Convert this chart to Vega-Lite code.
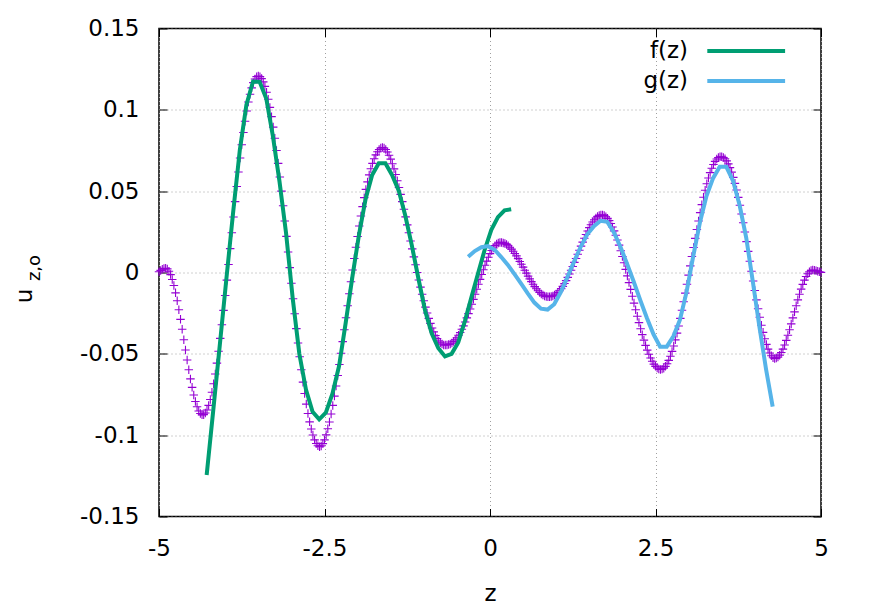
{
 "$schema": "https://vega.github.io/schema/vega-lite/v6.json",
 "width": 662,
 "height": 488,
 "autosize": {"type": "none"},
 "padding": {"left": 159, "top": 28.5, "right": 51, "bottom": 93.5},
 "background": "white",
 "config": {"view": {"stroke": "#000000", "strokeWidth": 1.5}, "font": "DejaVu Sans"},
 "datasets": {
  "purple": [
{"z":-5,"u":0.0005},{"z":-4.975,"u":0.0013},{"z":-4.95,"u":0.002},{"z":-4.925,"u":0.0024},{"z":-4.9,"u":0.0026},{"z":-4.875,"u":0.0022},{"z":-4.85,"u":0.0008},{"z":-4.825,"u":-0.0013},{"z":-4.8,"u":-0.0043},{"z":-4.775,"u":-0.008},
{"z":-4.75,"u":-0.0125},{"z":-4.725,"u":-0.0174},{"z":-4.7,"u":-0.0229},{"z":-4.675,"u":-0.0288},{"z":-4.65,"u":-0.0349},{"z":-4.625,"u":-0.0413},{"z":-4.6,"u":-0.0476},{"z":-4.575,"u":-0.0538},{"z":-4.55,"u":-0.0598},{"z":-4.525,"u":-0.0654},
{"z":-4.5,"u":-0.0706},{"z":-4.475,"u":-0.0753},{"z":-4.45,"u":-0.0793},{"z":-4.425,"u":-0.0825},{"z":-4.4,"u":-0.0851},{"z":-4.375,"u":-0.0867},{"z":-4.35,"u":-0.0875},{"z":-4.325,"u":-0.0874},{"z":-4.3,"u":-0.0864},{"z":-4.275,"u":-0.0845},
{"z":-4.25,"u":-0.0817},{"z":-4.225,"u":-0.0781},{"z":-4.2,"u":-0.0736},{"z":-4.175,"u":-0.0684},{"z":-4.15,"u":-0.0624},{"z":-4.125,"u":-0.0557},{"z":-4.1,"u":-0.0484},{"z":-4.075,"u":-0.0405},{"z":-4.05,"u":-0.0321},{"z":-4.025,"u":-0.0233},
{"z":-4,"u":-0.0141},{"z":-3.975,"u":-0.0047},{"z":-3.95,"u":0.0049},{"z":-3.925,"u":0.0147},{"z":-3.9,"u":0.0244},{"z":-3.875,"u":0.0341},{"z":-3.85,"u":0.0436},{"z":-3.825,"u":0.0529},{"z":-3.8,"u":0.0618},{"z":-3.775,"u":0.0704},
{"z":-3.75,"u":0.0785},{"z":-3.725,"u":0.0861},{"z":-3.7,"u":0.093},{"z":-3.675,"u":0.0993},{"z":-3.65,"u":0.1048},{"z":-3.625,"u":0.1096},{"z":-3.6,"u":0.1135},{"z":-3.575,"u":0.1167},{"z":-3.55,"u":0.119},{"z":-3.525,"u":0.1204},
{"z":-3.5,"u":0.1208},{"z":-3.475,"u":0.1204},{"z":-3.45,"u":0.1192},{"z":-3.425,"u":0.1172},{"z":-3.4,"u":0.1144},{"z":-3.375,"u":0.1108},{"z":-3.35,"u":0.1065},{"z":-3.325,"u":0.1015},{"z":-3.3,"u":0.0958},{"z":-3.275,"u":0.0894},
{"z":-3.25,"u":0.0825},{"z":-3.225,"u":0.075},{"z":-3.2,"u":0.0671},{"z":-3.175,"u":0.0587},{"z":-3.15,"u":0.05},{"z":-3.125,"u":0.041},{"z":-3.1,"u":0.0317},{"z":-3.075,"u":0.0222},{"z":-3.05,"u":0.0126},{"z":-3.025,"u":0.003},
{"z":-3,"u":-0.0066},{"z":-2.975,"u":-0.0161},{"z":-2.95,"u":-0.0254},{"z":-2.925,"u":-0.0345},{"z":-2.9,"u":-0.0433},{"z":-2.875,"u":-0.0518},{"z":-2.85,"u":-0.0598},{"z":-2.825,"u":-0.0674},{"z":-2.8,"u":-0.0744},{"z":-2.775,"u":-0.0809},
{"z":-2.75,"u":-0.0867},{"z":-2.725,"u":-0.0918},{"z":-2.7,"u":-0.0962},{"z":-2.675,"u":-0.0999},{"z":-2.65,"u":-0.1029},{"z":-2.625,"u":-0.1051},{"z":-2.6,"u":-0.1065},{"z":-2.575,"u":-0.1071},{"z":-2.55,"u":-0.1066},{"z":-2.525,"u":-0.1052},
{"z":-2.5,"u":-0.1029},{"z":-2.475,"u":-0.0998},{"z":-2.45,"u":-0.0961},{"z":-2.425,"u":-0.0919},{"z":-2.4,"u":-0.087},{"z":-2.375,"u":-0.0817},{"z":-2.35,"u":-0.076},{"z":-2.325,"u":-0.0698},{"z":-2.3,"u":-0.0633},{"z":-2.275,"u":-0.0566},
{"z":-2.25,"u":-0.0496},{"z":-2.225,"u":-0.0425},{"z":-2.2,"u":-0.0352},{"z":-2.175,"u":-0.0278},{"z":-2.15,"u":-0.0204},{"z":-2.125,"u":-0.0131},{"z":-2.1,"u":-0.0057},{"z":-2.075,"u":0.0015},{"z":-2.05,"u":0.0086},{"z":-2.025,"u":0.0155},
{"z":-2,"u":0.0221},{"z":-1.975,"u":0.0286},{"z":-1.95,"u":0.0347},{"z":-1.925,"u":0.0405},{"z":-1.9,"u":0.046},{"z":-1.875,"u":0.0511},{"z":-1.85,"u":0.0557},{"z":-1.825,"u":0.06},{"z":-1.8,"u":0.0638},{"z":-1.775,"u":0.0671},
{"z":-1.75,"u":0.0699},{"z":-1.725,"u":0.0723},{"z":-1.7,"u":0.0742},{"z":-1.675,"u":0.0756},{"z":-1.65,"u":0.0765},{"z":-1.625,"u":0.0768},{"z":-1.6,"u":0.0765},{"z":-1.575,"u":0.0756},{"z":-1.55,"u":0.0741},{"z":-1.525,"u":0.0721},
{"z":-1.5,"u":0.0697},{"z":-1.475,"u":0.0669},{"z":-1.45,"u":0.0637},{"z":-1.425,"u":0.0602},{"z":-1.4,"u":0.0564},{"z":-1.375,"u":0.0523},{"z":-1.35,"u":0.048},{"z":-1.325,"u":0.0436},{"z":-1.3,"u":0.0389},{"z":-1.275,"u":0.0342},
{"z":-1.25,"u":0.0293},{"z":-1.225,"u":0.0244},{"z":-1.2,"u":0.0194},{"z":-1.175,"u":0.0145},{"z":-1.15,"u":0.0096},{"z":-1.125,"u":0.0048},{"z":-1.1,"u":0},{"z":-1.075,"u":-0.0046},{"z":-1.05,"u":-0.009},{"z":-1.025,"u":-0.0134},
{"z":-1,"u":-0.0174},{"z":-0.975,"u":-0.0213},{"z":-0.95,"u":-0.0249},{"z":-0.925,"u":-0.0282},{"z":-0.9,"u":-0.0313},{"z":-0.875,"u":-0.0341},{"z":-0.85,"u":-0.0365},{"z":-0.825,"u":-0.0387},{"z":-0.8,"u":-0.0406},{"z":-0.775,"u":-0.0421},
{"z":-0.75,"u":-0.0432},{"z":-0.725,"u":-0.044},{"z":-0.7,"u":-0.0445},{"z":-0.675,"u":-0.0446},{"z":-0.65,"u":-0.0445},{"z":-0.625,"u":-0.0443},{"z":-0.6,"u":-0.0439},{"z":-0.575,"u":-0.0433},{"z":-0.55,"u":-0.0424},{"z":-0.525,"u":-0.0414},
{"z":-0.5,"u":-0.0401},{"z":-0.475,"u":-0.0386},{"z":-0.45,"u":-0.0369},{"z":-0.425,"u":-0.0349},{"z":-0.4,"u":-0.0328},{"z":-0.375,"u":-0.0304},{"z":-0.35,"u":-0.0279},{"z":-0.325,"u":-0.0253},{"z":-0.3,"u":-0.0224},{"z":-0.275,"u":-0.0195},
{"z":-0.25,"u":-0.0165},{"z":-0.225,"u":-0.0134},{"z":-0.2,"u":-0.0103},{"z":-0.175,"u":-0.0072},{"z":-0.15,"u":-0.0042},{"z":-0.125,"u":-0.0012},{"z":-0.1,"u":0.0017},{"z":-0.075,"u":0.0045},{"z":-0.05,"u":0.007},{"z":-0.025,"u":0.0094},
{"z":0,"u":0.0116},{"z":0.025,"u":0.0135},{"z":0.05,"u":0.0151},{"z":0.075,"u":0.0165},{"z":0.1,"u":0.0175},{"z":0.125,"u":0.0181},{"z":0.15,"u":0.0185},{"z":0.175,"u":0.0185},{"z":0.2,"u":0.0182},{"z":0.225,"u":0.0178},
{"z":0.25,"u":0.0172},{"z":0.275,"u":0.0164},{"z":0.3,"u":0.0155},{"z":0.325,"u":0.0144},{"z":0.35,"u":0.0131},{"z":0.375,"u":0.0117},{"z":0.4,"u":0.0102},{"z":0.425,"u":0.0085},{"z":0.45,"u":0.0068},{"z":0.475,"u":0.0051},
{"z":0.5,"u":0.0033},{"z":0.525,"u":0.0014},{"z":0.55,"u":-0.0004},{"z":0.575,"u":-0.0022},{"z":0.6,"u":-0.0039},{"z":0.625,"u":-0.0056},{"z":0.65,"u":-0.0072},{"z":0.675,"u":-0.0087},{"z":0.7,"u":-0.01},{"z":0.725,"u":-0.0112},
{"z":0.75,"u":-0.0123},{"z":0.775,"u":-0.0132},{"z":0.8,"u":-0.0139},{"z":0.825,"u":-0.0144},{"z":0.85,"u":-0.0148},{"z":0.875,"u":-0.0149},{"z":0.9,"u":-0.0149},{"z":0.925,"u":-0.0147},{"z":0.95,"u":-0.0144},{"z":0.975,"u":-0.0139},
{"z":1,"u":-0.0132},{"z":1.025,"u":-0.0123},{"z":1.05,"u":-0.0112},{"z":1.075,"u":-0.0099},{"z":1.1,"u":-0.0085},{"z":1.125,"u":-0.0068},{"z":1.15,"u":-0.005},{"z":1.175,"u":-0.003},{"z":1.2,"u":-0.0009},{"z":1.225,"u":0.0014},
{"z":1.25,"u":0.0037},{"z":1.275,"u":0.0062},{"z":1.3,"u":0.0086},{"z":1.325,"u":0.0112},{"z":1.35,"u":0.0137},{"z":1.375,"u":0.0162},{"z":1.4,"u":0.0187},{"z":1.425,"u":0.0211},{"z":1.45,"u":0.0234},{"z":1.475,"u":0.0255},
{"z":1.5,"u":0.0276},{"z":1.525,"u":0.0294},{"z":1.55,"u":0.031},{"z":1.575,"u":0.0324},{"z":1.6,"u":0.0335},{"z":1.625,"u":0.0344},{"z":1.65,"u":0.035},{"z":1.675,"u":0.0353},{"z":1.7,"u":0.0354},{"z":1.725,"u":0.035},
{"z":1.75,"u":0.0343},{"z":1.775,"u":0.0333},{"z":1.8,"u":0.0319},{"z":1.825,"u":0.0301},{"z":1.85,"u":0.028},{"z":1.875,"u":0.0256},{"z":1.9,"u":0.0229},{"z":1.925,"u":0.02},{"z":1.95,"u":0.0168},{"z":1.975,"u":0.0134},
{"z":2,"u":0.0098},{"z":2.025,"u":0.006},{"z":2.05,"u":0.0019},{"z":2.075,"u":-0.0021},{"z":2.1,"u":-0.0062},{"z":2.125,"u":-0.0104},{"z":2.15,"u":-0.0146},{"z":2.175,"u":-0.0188},{"z":2.2,"u":-0.0229},{"z":2.225,"u":-0.0269},
{"z":2.25,"u":-0.0308},{"z":2.275,"u":-0.0346},{"z":2.3,"u":-0.0382},{"z":2.325,"u":-0.0416},{"z":2.35,"u":-0.0448},{"z":2.375,"u":-0.0477},{"z":2.4,"u":-0.0503},{"z":2.425,"u":-0.0526},{"z":2.45,"u":-0.0546},{"z":2.475,"u":-0.0563},
{"z":2.5,"u":-0.0577},{"z":2.525,"u":-0.0587},{"z":2.55,"u":-0.0593},{"z":2.575,"u":-0.0596},{"z":2.6,"u":-0.0594},{"z":2.625,"u":-0.0588},{"z":2.65,"u":-0.0577},{"z":2.675,"u":-0.0561},{"z":2.7,"u":-0.054},{"z":2.725,"u":-0.0515},
{"z":2.75,"u":-0.0485},{"z":2.775,"u":-0.0452},{"z":2.8,"u":-0.0414},{"z":2.825,"u":-0.0373},{"z":2.85,"u":-0.0329},{"z":2.875,"u":-0.0282},{"z":2.9,"u":-0.0232},{"z":2.925,"u":-0.018},{"z":2.95,"u":-0.0127},{"z":2.975,"u":-0.0072},
{"z":3,"u":-0.0016},{"z":3.025,"u":0.0041},{"z":3.05,"u":0.0098},{"z":3.075,"u":0.0154},{"z":3.1,"u":0.021},{"z":3.125,"u":0.0264},{"z":3.15,"u":0.0317},{"z":3.175,"u":0.0368},{"z":3.2,"u":0.0417},{"z":3.225,"u":0.0463},
{"z":3.25,"u":0.0506},{"z":3.275,"u":0.0546},{"z":3.3,"u":0.0581},{"z":3.325,"u":0.0614},{"z":3.35,"u":0.0641},{"z":3.375,"u":0.0664},{"z":3.4,"u":0.0683},{"z":3.425,"u":0.0698},{"z":3.45,"u":0.0707},{"z":3.475,"u":0.0712},
{"z":3.5,"u":0.0711},{"z":3.525,"u":0.0707},{"z":3.55,"u":0.0699},{"z":3.575,"u":0.0686},{"z":3.6,"u":0.0668},{"z":3.625,"u":0.0645},{"z":3.65,"u":0.0617},{"z":3.675,"u":0.0585},{"z":3.7,"u":0.0548},{"z":3.725,"u":0.0507},
{"z":3.75,"u":0.0462},{"z":3.775,"u":0.0413},{"z":3.8,"u":0.036},{"z":3.825,"u":0.0306},{"z":3.85,"u":0.0249},{"z":3.875,"u":0.019},{"z":3.9,"u":0.013},{"z":3.925,"u":0.0069},{"z":3.95,"u":0.0008},{"z":3.975,"u":-0.0052},
{"z":4,"u":-0.0111},{"z":4.025,"u":-0.0168},{"z":4.05,"u":-0.0223},{"z":4.075,"u":-0.0275},{"z":4.1,"u":-0.0324},{"z":4.125,"u":-0.0368},{"z":4.15,"u":-0.0407},{"z":4.175,"u":-0.0442},{"z":4.2,"u":-0.0471},{"z":4.225,"u":-0.0495},
{"z":4.25,"u":-0.0512},{"z":4.275,"u":-0.0524},{"z":4.3,"u":-0.0528},{"z":4.325,"u":-0.0526},{"z":4.35,"u":-0.052},{"z":4.375,"u":-0.0508},{"z":4.4,"u":-0.0492},{"z":4.425,"u":-0.0471},{"z":4.45,"u":-0.0446},{"z":4.475,"u":-0.0417},
{"z":4.5,"u":-0.0386},{"z":4.525,"u":-0.0352},{"z":4.55,"u":-0.0316},{"z":4.575,"u":-0.0279},{"z":4.6,"u":-0.0242},{"z":4.625,"u":-0.0204},{"z":4.65,"u":-0.0168},{"z":4.675,"u":-0.0134},{"z":4.7,"u":-0.0102},{"z":4.725,"u":-0.0073},
{"z":4.75,"u":-0.0047},{"z":4.775,"u":-0.0025},{"z":4.8,"u":-0.0008},{"z":4.825,"u":0.0005},{"z":4.85,"u":0.0012},{"z":4.875,"u":0.0015},{"z":4.9,"u":0.0014},{"z":4.925,"u":0.0011},{"z":4.95,"u":0.0008},{"z":4.975,"u":0.0004},
{"z":5,"u":0.0001}
  ],
  "f": [
{"z":-4.28,"u":-0.1245},{"z":-4.18,"u":-0.0845},{"z":-4.08,"u":-0.044},{"z":-3.98,"u":-0.003},{"z":-3.88,"u":0.037},{"z":-3.78,"u":0.075},{"z":-3.68,"u":0.103},{"z":-3.58,"u":0.1174},{"z":-3.48,"u":0.1172},{"z":-3.38,"u":0.107},
{"z":-3.28,"u":0.084},{"z":-3.18,"u":0.056},{"z":-3.08,"u":0.024},{"z":-2.98,"u":-0.016},{"z":-2.88,"u":-0.05},{"z":-2.78,"u":-0.072},{"z":-2.68,"u":-0.0856},{"z":-2.58,"u":-0.0903},{"z":-2.48,"u":-0.0862},{"z":-2.38,"u":-0.0745},
{"z":-2.28,"u":-0.0575},{"z":-2.18,"u":-0.031},{"z":-2.08,"u":-0.003},{"z":-1.98,"u":0.023},{"z":-1.88,"u":0.045},{"z":-1.78,"u":0.06},{"z":-1.68,"u":0.0672},{"z":-1.58,"u":0.0672},{"z":-1.48,"u":0.06},{"z":-1.38,"u":0.0505},
{"z":-1.28,"u":0.035},{"z":-1.18,"u":0.0165},{"z":-1.08,"u":-0.004},{"z":-0.98,"u":-0.0235},{"z":-0.88,"u":-0.0375},{"z":-0.78,"u":-0.0466},{"z":-0.68,"u":-0.0516},{"z":-0.58,"u":-0.05},{"z":-0.48,"u":-0.043},{"z":-0.38,"u":-0.03},
{"z":-0.28,"u":-0.015},{"z":-0.18,"u":-0.0005},{"z":-0.08,"u":0.014},{"z":0.02,"u":0.0262},{"z":0.12,"u":0.034},{"z":0.22,"u":0.0382},{"z":0.32,"u":0.0389}
  ],
  "g": [
{"z":-0.33,"u":0.0097},{"z":-0.23,"u":0.0132},{"z":-0.13,"u":0.0155},{"z":-0.03,"u":0.0162},{"z":0.07,"u":0.014},{"z":0.17,"u":0.0095},{"z":0.27,"u":0.0047},{"z":0.37,"u":-0.001},{"z":0.47,"u":-0.0068},{"z":0.57,"u":-0.0128},
{"z":0.67,"u":-0.0185},{"z":0.77,"u":-0.0222},{"z":0.87,"u":-0.0228},{"z":0.97,"u":-0.0195},{"z":1.07,"u":-0.012},{"z":1.17,"u":-0.0028},{"z":1.27,"u":0.0067},{"z":1.37,"u":0.0158},{"z":1.47,"u":0.0235},{"z":1.57,"u":0.0285},
{"z":1.67,"u":0.0318},{"z":1.77,"u":0.0312},{"z":1.87,"u":0.0248},{"z":1.97,"u":0.0158},{"z":2.07,"u":0.0054},{"z":2.17,"u":-0.0055},{"z":2.27,"u":-0.017},{"z":2.37,"u":-0.028},{"z":2.47,"u":-0.038},{"z":2.57,"u":-0.0456},
{"z":2.67,"u":-0.0456},{"z":2.77,"u":-0.0392},{"z":2.87,"u":-0.029},{"z":2.97,"u":-0.0118},{"z":3.07,"u":0.01},{"z":3.17,"u":0.0305},{"z":3.27,"u":0.047},{"z":3.37,"u":0.058},{"z":3.47,"u":0.065},{"z":3.57,"u":0.065},
{"z":3.67,"u":0.0565},{"z":3.77,"u":0.0415},{"z":3.87,"u":0.0215},{"z":3.97,"u":-0.0055},{"z":4.07,"u":-0.0335},{"z":4.17,"u":-0.0595},{"z":4.27,"u":-0.0825}
  ]
 },
 "resolve": {"axis": {"x": "independent", "y": "independent"}},
 "layer": [
  {
   "data": {"name": "purple"},
   "mark": {"type": "point", "shape": "M-1,0L1,0M0,-1L0,1", "filled": false, "size": 72, "strokeWidth": 1.1, "color": "#9400D3", "opacity": 1},
   "encoding": {
    "x": {"field": "z", "type": "quantitative", "scale": {"domain": [-5, 5], "nice": false, "zero": false},
     "axis": {"orient": "bottom", "values": [-5, -2.5, 0, 2.5, 5], "ticks": false, "tickSize": 0, "domain": false,
      "grid": true, "gridColor": "#a0a0a0", "gridDash": [1, 3], "gridWidth": 1,
      "labelFont": "DejaVu Sans", "labelFontSize": 23, "labelColor": "#000000", "labelPadding": 38.5, "labelBaseline": "alphabetic",
      "labelFlush": false, "labelOverlap": false, "labelExpr": "'' + datum.value",
      "title": "z", "titleFont": "DejaVu Sans", "titleFontSize": 23, "titleFontWeight": "normal", "titleColor": "#000000",
      "titleX": 331, "titleY": 83.5, "titleBaseline": "alphabetic", "titleAlign": "center"}},
    "y": {"field": "u", "type": "quantitative", "scale": {"domain": [-0.15, 0.15], "nice": false, "zero": false},
     "axis": {"orient": "left", "values": [-0.15, -0.1, -0.05, 0, 0.05, 0.1, 0.15], "ticks": false, "tickSize": 0, "domain": false,
      "grid": true, "gridColor": "#a0a0a0", "gridDash": [1, 3], "gridWidth": 1,
      "labelFont": "DejaVu Sans", "labelFontSize": 23, "labelColor": "#000000", "labelPadding": 20, "labelBaseline": "middle",
      "labelFlush": false, "labelOverlap": false, "labelBound": false, "labelExpr": "'' + datum.value",
      "title": "u", "titleFont": "DejaVu Sans", "titleFontSize": 23, "titleFontWeight": "normal", "titleColor": "#000000",
      "titleAngle": 270, "titleX": -127.3, "titleY": 267, "titleBaseline": "alphabetic", "titleAlign": "center"}}
   }
  },
  {
   "data": {"name": "f"},
   "mark": {"type": "line", "strokeWidth": 4, "clip": true},
   "encoding": {
    "x": {"field": "z", "type": "quantitative",
     "axis": {"orient": "top", "values": [-5, -2.5, 0, 2.5, 5], "labels": false, "ticks": true, "tickSize": -8, "tickColor": "#000000", "tickWidth": 1, "domain": false, "grid": false, "title": null}},
    "y": {"field": "u", "type": "quantitative",
     "axis": {"orient": "left", "values": [-0.15, -0.1, -0.05, 0, 0.05, 0.1, 0.15], "labels": false, "ticks": true, "tickSize": -8, "tickColor": "#000000", "tickWidth": 1, "domain": false, "grid": false,
      "title": "z,o", "titleFont": "DejaVu Sans", "titleFontSize": 18, "titleFontWeight": "normal", "titleColor": "#000000",
      "titleAngle": 270, "titleX": -120, "titleY": 239, "titleBaseline": "alphabetic", "titleAlign": "center"}},
    "color": {"datum": "f(z)", "type": "nominal",
     "scale": {"domain": ["f(z)", "g(z)"], "range": ["#009E73", "#56B4E9"]},
     "legend": {"orient": "none", "legendX": 575.7, "legendY": 11, "title": null, "symbolType": "M-7.78,0L7.78,0", "symbolSize": 100, "symbolStrokeWidth": 4,
      "labelAlign": "right", "labelOffset": -69.7, "labelFont": "DejaVu Sans", "labelFontSize": 23, "labelColor": "#000000", "rowPadding": 6, "padding": 0}}
   }
  },
  {
   "data": {"name": "g"},
   "mark": {"type": "line", "strokeWidth": 4, "clip": true},
   "encoding": {
    "x": {"field": "z", "type": "quantitative",
     "axis": {"orient": "bottom", "values": [-5, -2.5, 0, 2.5, 5], "labels": false, "ticks": true, "tickSize": -8, "tickColor": "#000000", "tickWidth": 1, "domain": false, "grid": false, "title": null}},
    "y": {"field": "u", "type": "quantitative",
     "axis": {"orient": "right", "values": [-0.15, -0.1, -0.05, 0, 0.05, 0.1, 0.15], "labels": false, "ticks": true, "tickSize": -8, "tickColor": "#000000", "tickWidth": 1, "domain": false, "grid": false, "title": null}},
    "color": {"datum": "g(z)", "type": "nominal"}
   }
  }
 ]
}
